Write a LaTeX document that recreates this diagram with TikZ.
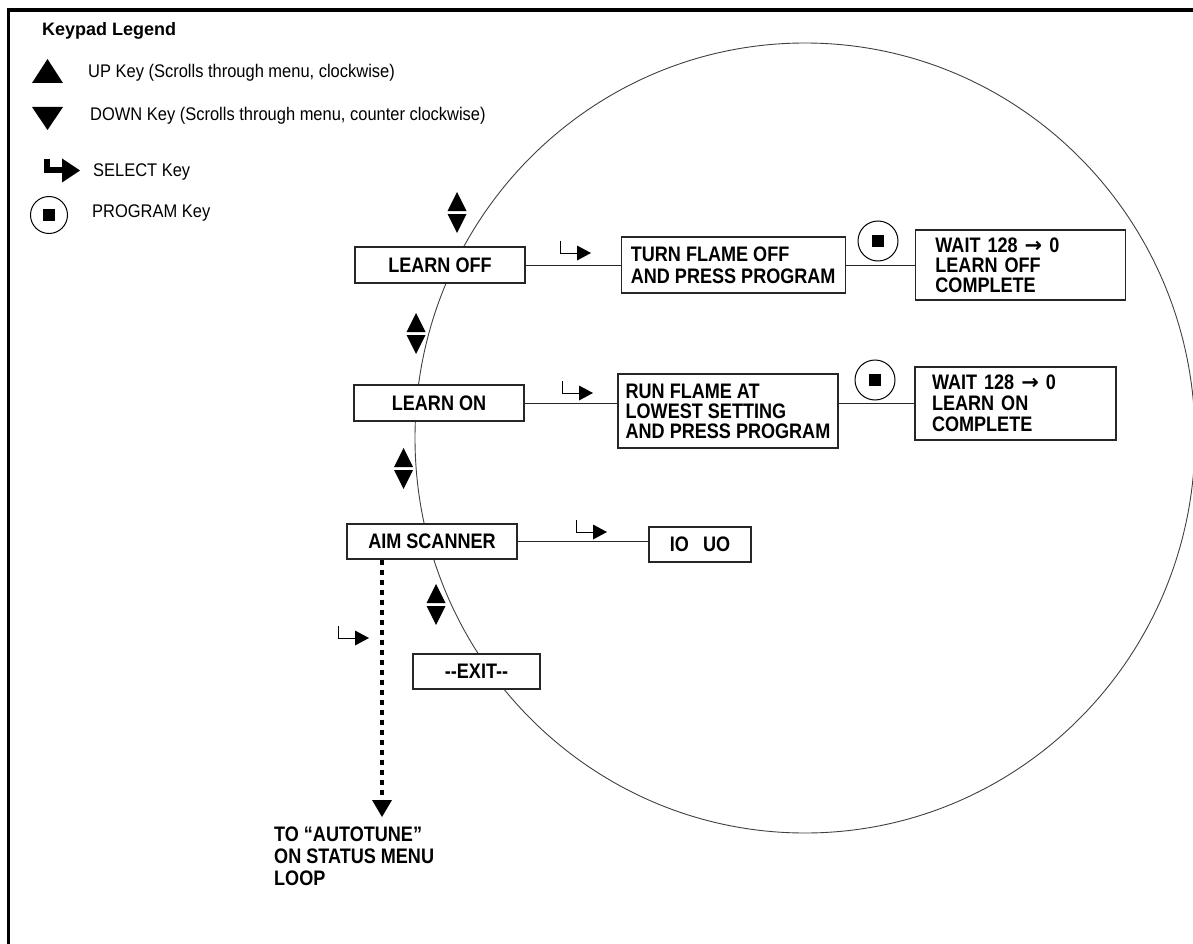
\documentclass[tikz,border=0pt]{standalone}
\usepackage{fontspec}
\setmainfont{Liberation Sans}[FakeStretch=0.9]
\newfontfamily\headfont{Liberation Sans}
\newfontfamily\boxfont{Liberation Sans}[FakeStretch=0.86]
\newfontfamily\arrowfont{DejaVu Sans}
\usetikzlibrary{arrows.meta,positioning}

\begin{document}
\begin{tikzpicture}[x=1pt,y=-1pt,
      menubox/.style={
         rectangle,
         draw=black!85,
         fill=white,
         line width=1.2pt,
         inner sep=0pt,
         minimum height=36pt,
         font=\boxfont\fontsize{21}{20}\selectfont\bfseries},
      waitbox/.style={menubox, align=left, inner xsep=20pt, text width=170pt, minimum height=70pt},
      legendtext/.style={anchor=base west, inner sep=0pt, font=\fontsize{18.3}{20}\selectfont},
      progkey/.style={
         circle,
         draw=black,
         line width=1pt,
         inner sep=0pt,
         minimum size=40pt,
         path picture={\fill (path picture bounding box.center) +(-6pt,-6pt) rectangle +(6pt,6pt);}},
      selkey/.style={line width=1pt, -{Triangle[length=14pt,width=15pt,line width=0pt]}},
      link/.style={line width=1pt, black!85},
      autolink/.style={line width=4pt, dash pattern=on 5pt off 5pt,
         -{Triangle[length=17pt,width=20pt,line width=0pt]}},
      node distance=2cm and 2cm
      ]
\useasboundingbox (0,0) rectangle (1193,944);

% frame
\draw[line width=3.5pt] (7.2,10) -- (1193,10);
\draw[line width=2.7pt] (8.5,8.5) -- (8.5,944);

% menu loop
\draw[line width=0.9pt, black!75] (805,438) ellipse [x radius=390pt, y radius=395pt];

% legend
\node[anchor=base west, inner sep=0pt, font=\headfont\fontsize{18}{20}\selectfont\bfseries] (legend) at (42,36) {Keypad Legend};
\fill (47.5,59) -- (63,83) -- (32,83) -- cycle;
\fill (32,107) -- (63,107) -- (47.5,130) -- cycle;
\draw[line width=6pt, -{Triangle[length=18pt,width=24pt,line width=0pt]}] (46.5,159) -- (46.5,170.5) -- (80,170.5);
\node[progkey, minimum size=37pt] (pgmkey) at (49,215) {};

\node[legendtext] (upkey) at (88,78) {UP Key (Scrolls through menu, clockwise)};
\node[legendtext] (downkey) at (90,120.5) {DOWN Key (Scrolls through menu, counter clockwise)};
\node[legendtext] (selkeytxt) at (93,177) {SELECT Key};
\node[legendtext] (pgmkeytxt) at (92,218) {PROGRAM Key};

% menu items
\node[menubox, minimum width=170pt] (learnoff) at (440,265) {LEARN OFF};
\node[menubox, minimum width=170pt] (learnon) at (439,403) {LEARN ON};
\node[menubox, minimum width=170pt, minimum height=35pt] (aim) at (432,541.5) {AIM SCANNER};
\node[menubox, minimum width=127pt, minimum height=35pt] (exit) at (476.5,671.5) {-{}-EXIT-{}-};

\node[menubox, align=left, minimum width=224pt, minimum height=56pt,
      font=\boxfont\fontsize{21}{22}\selectfont\bfseries, right = 95pt of learnoff] (turnoff)
      {TURN FLAME OFF\\AND PRESS PROGRAM};
\node[waitbox, right = 69pt of turnoff] (waitoff) {WAIT 128 {\arrowfont →} 0\\LEARN OFF\\COMPLETE};

\node[menubox, align=left, minimum width=220pt, minimum height=74pt] (runflame) at (728,411)
      {RUN FLAME AT\\LOWEST SETTING\\AND PRESS PROGRAM};
\node[waitbox, inner xsep=17pt, text width=167pt, minimum height=73pt,
      font=\boxfont\fontsize{21}{21}\selectfont\bfseries] (waiton) at (1015.5,403.5)
      {WAIT 128 {\arrowfont →} 0\\LEARN ON\\COMPLETE};

\node[menubox, minimum width=102pt, minimum height=35pt] (ioo) at (700,544.5) {IO\hspace{14pt}UO};

\node[progkey] (pgmoff) at (878,241) {};
\node[progkey] (pgmon) at (875,380) {};

\coordinate (autotune) at (382,817);
\node[anchor=north west, align=left, inner sep=0pt,
      font=\boxfont\fontsize{21}{22}\selectfont\bfseries] (autotxt) at (274,827)
      {TO “AUTOTUNE”\\ON STATUS MENU\\LOOP};

% connectors
\draw[link] (learnoff.east) -- (learnoff.east -| turnoff.west);
\draw[link] (turnoff.east) -- (turnoff.east -| waitoff.west);
\draw[link] (learnon.east) -- (learnon.east -| runflame.west);
\draw[link] (waiton.west -| runflame.east) -- (waiton.west);
\draw[link] (aim.east) -- (aim.east -| ioo.west);
\draw[autolink] (aim.south -| autotune) -- (autotune);

% up/down keys
\foreach \x/\y in {457/192, 416/313, 403.5/448, 436/584}{
   \fill (\x,\y) -- (\x+9.5,\y+19) -- (\x-9.5,\y+19) -- cycle;
   \fill (\x-9.5,\y+22) -- (\x+9.5,\y+22) -- (\x,\y+41) -- cycle;
}

% select keys
\foreach \x/\y in {560/253, 562/393, 576/532, 338/638}
   \draw[selkey] (\x,\y-12) -- (\x,\y) -- (\x+31,\y);

\end{tikzpicture}
\end{document}
